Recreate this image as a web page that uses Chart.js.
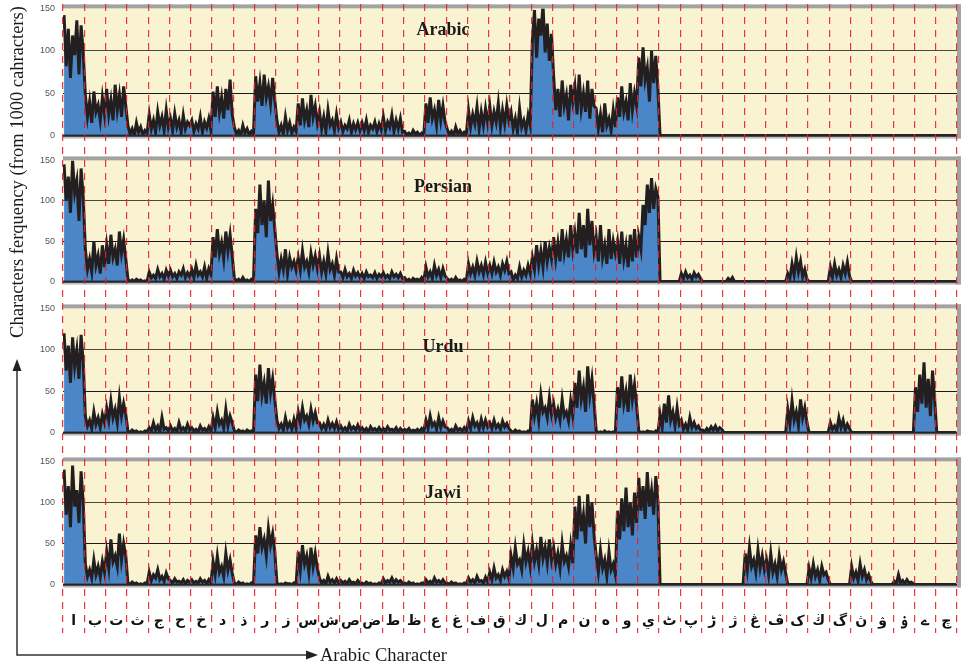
<!DOCTYPE html>
<html>
<head>
<meta charset="utf-8">
<script src="https://cdn.jsdelivr.net/npm/chart.js@4.4.1/dist/chart.umd.min.js"></script>
<style>
  html, body { margin: 0; padding: 0; background: #fff; }
  #wrap { position: relative; width: 962px; height: 665px; overflow: hidden; }
  canvas { position: absolute; left: 0; }
  #ytitle { position: absolute; left: 17px; top: 172px; transform: translate(-50%, -50%) rotate(-90deg);
            white-space: nowrap; font: 18.5px 'Liberation Serif', serif; color: #1a1a1a; line-height: 20px; }
  #xtitle { position: absolute; left: 320px; top: 645px; font: 18.5px 'Liberation Serif', serif; color: #1a1a1a;
            white-space: nowrap; line-height: 20px; }
  svg { position: absolute; left: 0; top: 0; }
</style>
</head>
<body>
<div id="wrap">
  <canvas id="p0"></canvas>
  <canvas id="p1"></canvas>
  <canvas id="p2"></canvas>
  <canvas id="p3"></canvas>
  <canvas id="cols"></canvas>
  <div id="ytitle">Characters ferquency (from 1000 cahracters)</div>
  <svg width="962" height="665">
    <polyline points="17,371 17,655 306,655" fill="none" stroke="#333" stroke-width="1.5"/>
    <polygon points="17,359 12.5,371 21.5,371" fill="#222"/>
    <polygon points="318,655 306,650.5 306,659.5" fill="#222"/>
  </svg>
  <div id="xtitle">Arabic Character</div>
</div>
<script>
// Character columns along the x axis
const letters = ['ا','ب','ت','ث','ج','ح','خ','د','ذ','ر','ز','س','ش','ص','ض','ط','ظ','ع','غ',
                 'ف','ق','ك','ل','م','ن','ه','و','ي','ٹ','پ','ڑ','ژ','ڠ','ڤ','ک','ڬ','گ','ڽ','ۋ','ۏ','ے','چ'];

const panelNames = ['Arabic', 'Persian', 'Urdu', 'Jawi'];
const yTicks = [0, 50, 100, 150];

// Per-character frequency samples (per 1000 characters); 0 = character not used
const arabic = [
  [142,82,126,68,118,95,136,72,130,98],
  [48,22,40,15,52,28,36,18,45,25],
  [55,25,42,18,60,30,48,22,58,35],
  [12,2,8,0,15,4,10,1,6,3],
  [25,8,18,4,28,12,22,6,30,10],
  [20,6,26,10,18,4,24,8,16,12],
  [18,5,14,8,22,4,16,9,20,6],
  [52,22,58,28,45,20,55,30,66,25],
  [10,2,6,0,12,3,8,1,5,2],
  [70,40,62,35,72,45,58,38,68,42],
  [18,4,12,2,22,6,15,3,10,5],
  [38,12,44,18,30,10,48,22,35,15],
  [28,8,22,5,30,12,18,6,25,9],
  [16,5,12,8,18,4,14,7,15,6],
  [15,6,18,4,12,8,16,5,14,7],
  [22,6,16,10,24,5,18,8,20,4],
  [5,1,3,0,6,2,4,0,3,1],
  [38,15,45,20,30,12,42,18,35,16],
  [8,1,5,0,10,2,6,1,4,2],
  [30,10,25,14,34,8,28,12,32,15],
  [35,12,28,16,38,10,30,14,36,18],
  [28,8,20,4,32,10,18,6,24,12],
  [112,148,92,138,118,155,98,132,88,120],
  [70,30,55,22,65,35,48,18,60,40],
  [58,25,72,32,50,28,65,20,55,35],
  [32,8,25,4,38,12,20,6,30,10],
  [45,22,58,28,40,18,62,30,50,35],
  [92,58,104,66,80,40,100,62,94,55],
  0,0,0,0,0,0,0,0,0,0,0,0,0,0
];

const persian = [
  [145,100,130,85,150,110,125,75,140,105],
  [40,15,28,12,50,20,32,10,45,18],
  [45,22,58,30,40,20,62,35,52,28],
  [3,0,2,0,3,1,2,0,1,0],
  [12,5,8,4,15,6,10,3,14,7],
  [14,6,10,4,12,8,16,5,11,6],
  [15,5,20,8,12,6,18,4,16,9],
  [55,30,65,35,48,28,62,38,58,32],
  [4,1,3,0,5,1,2,0,3,1],
  [90,60,120,70,100,55,125,75,95,65],
  [35,12,28,15,40,10,30,18,25,14],
  [30,14,38,18,25,12,35,20,32,16],
  [32,12,25,10,35,15,22,8,28,12],
  [12,5,15,6,10,4,14,7,11,5],
  [10,4,12,6,8,5,11,4,9,6],
  [11,5,8,4,12,6,9,5,10,4],
  [5,1,3,0,4,2,3,1,5,1],
  [18,6,12,4,20,8,15,5,16,7],
  [4,1,3,0,5,1,2,0,3,1],
  [22,10,18,8,25,12,20,9,24,11],
  [20,10,24,12,18,8,22,14,25,10],
  [12,2,8,4,18,6,14,8,20,10],
  [30,15,45,20,38,18,50,25,42,28],
  [55,28,48,25,65,35,52,30,70,40],
  [60,35,85,40,70,30,90,45,75,38],
  [55,25,70,30,45,22,65,28,50,35],
  [50,22,62,28,45,18,58,25,65,30],
  [55,40,95,70,120,85,128,90,115,105],
  0,
  [10,4,12,5,8,3,11,6,9,4],
  0,
  [0,0,4,1,5,0,0,0,0,0],
  0,0,
  [10,4,22,8,30,12,25,6,15,3],
  0,
  [18,6,22,8,15,5,20,10,24,7],
  0,0,0,0,0
];

const urdu = [
  [120,75,105,60,115,80,100,65,118,85],
  [20,8,15,5,25,10,18,6,22,12],
  [30,15,38,18,28,12,42,20,35,22],
  [2,0,3,1,2,0,1,0,2,1],
  [6,2,12,3,8,1,18,4,6,2],
  [8,2,5,1,12,3,6,2,10,3],
  [6,2,4,1,8,3,5,1,7,2],
  [18,6,25,10,15,5,28,8,20,12],
  [2,0,3,1,2,0,3,1,2,0],
  [70,38,82,45,60,35,78,48,65,40],
  [15,5,10,3,18,6,12,4,16,5],
  [25,12,30,15,20,10,28,14,24,12],
  [12,5,10,4,15,6,11,5,13,4],
  [8,3,6,2,10,4,7,3,9,3],
  [6,2,5,1,7,3,5,2,6,2],
  [5,2,7,3,4,2,6,1,5,2],
  [4,2,5,1,3,2,4,1,5,2],
  [15,5,20,8,12,4,18,6,14,7],
  [6,2,4,1,8,3,5,2,6,2],
  [14,5,18,8,12,4,16,6,15,7],
  [12,5,15,6,10,4,14,7,11,5],
  [2,0,3,1,2,0,1,0,2,1],
  [40,20,35,15,45,25,30,18,42,22],
  [35,18,28,15,40,20,25,14,38,20],
  [60,30,75,40,55,25,80,45,65,35],
  [2,0,1,0,2,0,1,0,1,0],
  [55,30,68,35,50,25,70,40,58,32],
  [2,0,1,0,2,1,1,0,2,0],
  [22,6,35,12,45,15,25,8,30,10],
  [15,4,10,3,18,6,12,5,8,3],
  [3,1,5,2,7,3,8,2,6,4],
  0,0,0,
  [28,10,38,15,25,8,40,18,30,12],
  0,
  [12,4,8,2,18,6,15,3,10,5],
  0,0,0,
  [55,25,70,35,85,30,65,20,75,40],
  0
];

const jawi = [
  [140,85,120,70,145,95,115,75,138,100],
  [25,10,18,8,30,12,22,9,28,15],
  [40,20,55,28,35,22,62,30,50,35],
  [2,0,3,1,2,0,1,0,2,1],
  [15,5,12,8,18,6,10,4,14,7],
  [5,2,7,3,4,2,6,1,5,3],
  [6,2,4,2,7,3,5,1,6,2],
  [28,12,35,15,22,10,38,18,30,14],
  [2,0,3,1,2,0,1,0,2,0],
  [60,38,70,45,55,35,68,48,62,40],
  [2,0,1,0,2,1,1,0,2,0],
  [40,18,48,25,35,15,45,22,38,20],
  [8,2,5,1,10,3,6,2,7,2],
  [5,2,4,1,6,2,3,1,5,2],
  [2,0,3,1,2,0,1,0,2,1],
  [7,2,5,3,8,2,6,3,5,2],
  [2,0,3,1,2,0,1,0,2,1],
  [6,2,4,1,8,3,5,2,6,2],
  [2,0,3,1,2,0,1,0,2,1],
  [8,3,6,2,10,4,5,2,9,3],
  [15,6,20,8,12,5,18,10,16,7],
  [35,20,45,25,30,18,48,28,40,22],
  [50,28,42,25,58,32,45,26,55,30],
  [45,25,38,20,50,28,35,22,48,26],
  [95,55,108,65,85,50,110,70,100,60],
  [35,15,42,20,30,10,40,18,25,12],
  [90,55,105,65,118,70,100,60,112,75],
  [130,90,120,80,137,95,115,85,132,100],
  0,0,0,0,
  [38,18,45,22,30,15,42,20,35,18],
  [30,12,38,15,25,10,35,18,28,14],
  0,
  [20,8,25,10,18,5,22,12,15,6],
  0,
  [22,8,15,5,25,10,18,6,12,4],
  0,
  [4,1,12,2,5,1,6,2,3,1],
  0,0
];

const SAMPLES = 10;
const W = 962;

// Expand the per-character samples into points along a 0..42 linear axis
function toPoints(cols) {
  const pts = [];
  cols.forEach((col, i) => {
    const vals = Array.isArray(col) ? col : new Array(SAMPLES).fill(0);
    vals.forEach((v, j) => pts.push({ x: i + (j + 0.5) / vals.length, y: v }));
  });
  return pts;
}

// Panel plot areas (top / bottom pixel of each plot), title centre y
const panelBoxes = [
  { top: 8,   bottom: 136, ty: 30 },
  { top: 160, bottom: 282, ty: 187 },
  { top: 308, bottom: 433, ty: 347 },
  { top: 461, bottom: 585, ty: 493 }
];
const series = [arabic, persian, urdu, jawi];

// Cream background, grey frame and the language name of each panel
const panelFrame = {
  id: 'panelFrame',
  beforeDraw(chart) {
    const { ctx, chartArea: a } = chart;
    ctx.save();
    ctx.fillStyle = '#faf3d1';
    ctx.fillRect(a.left, a.top, a.right - a.left, a.bottom - a.top);
    ctx.restore();
  },
  afterDraw(chart, args, opts) {
    const { ctx, chartArea: a } = chart;
    ctx.save();
    ctx.fillStyle = '#a2a2a2';
    ctx.fillRect(a.left, a.top - 4, a.right - a.left + 4, 4);
    ctx.fillRect(a.right, a.top - 4, 4, a.bottom - a.top + 7);
    ctx.fillStyle = '#bcbcbc';
    ctx.fillRect(a.left, a.bottom + 1, a.right - a.left, 2);
    ctx.fillStyle = '#262626';
    ctx.fillRect(a.left, a.bottom - 1, a.right - a.left, 2.2);
    ctx.font = 'bold 18px "Liberation Serif"';
    ctx.fillStyle = '#1a1a1a';
    ctx.textAlign = 'center';
    ctx.textBaseline = 'middle';
    ctx.fillText(opts.title, opts.tx, a.top + opts.dy);
    ctx.restore();
  }
};

function panelConfig(k, box) {
  return {
    type: 'line',
    data: {
      datasets: [{
        data: toPoints(series[k]),
        borderColor: '#231f20',
        borderWidth: 3,
        backgroundColor: '#4a86c8',
        fill: 'origin',
        pointRadius: 0,
        tension: 0
      }]
    },
    options: {
      responsive: false,
      maintainAspectRatio: false,
      animation: false,
      events: [],
      layout: { padding: { left: 0, right: 5, top: 6, bottom: 6 } },
      plugins: {
        legend: { display: false },
        tooltip: { enabled: false },
        panelFrame: { title: panelNames[k], tx: 443, dy: box.ty - box.top }
      },
      scales: {
        x: { type: 'linear', min: 0, max: letters.length, display: false },
        y: {
          min: 0, max: 150,
          afterBuildTicks: s => { s.ticks = yTicks.map(v => ({ value: v })); },
          afterFit: s => { s.width = 63; },
          ticks: { padding: 8, color: '#555', font: { family: 'Liberation Sans', size: 9 } },
          grid: {
            drawTicks: false,
            lineWidth: 1,
            color: c => (c.tick && c.tick.value === 100) ? '#4d4a3c'
                      : (c.tick && c.tick.value === 50) ? '#1a1a1a' : 'rgba(0,0,0,0)'
          },
          border: { display: false }
        }
      }
    },
    plugins: [panelFrame]
  };
}

panelBoxes.forEach((box, k) => {
  const cv = document.getElementById('p' + k);
  const plotH = box.bottom - box.top;
  // first pass: find how much room the axis labels take above / below the plot
  cv.width = W; cv.height = plotH + 20;
  let chart = new Chart(cv, panelConfig(k, box));
  const offTop = chart.chartArea.top;
  const offBot = cv.height - chart.chartArea.bottom;
  chart.destroy();
  // second pass: size the canvas so the plot spans exactly box.top .. box.bottom
  cv.width = W; cv.height = plotH + offTop + offBot;
  cv.style.top = (box.top - offTop) + 'px';
  new Chart(cv, panelConfig(k, box));
});

// Column separators (red dashed) running through all panels, with the character labels
const colCanvas = document.getElementById('cols');
colCanvas.width = W; colCanvas.height = 640;
colCanvas.style.top = '0px';
new Chart(colCanvas, {
  type: 'line',
  data: { labels: letters, datasets: [] },
  options: {
    responsive: false,
    maintainAspectRatio: false,
    animation: false,
    events: [],
    layout: { padding: { left: 63, right: 5, top: 4, bottom: 0 } },
    plugins: { legend: { display: false }, tooltip: { enabled: false } },
    scales: {
      y: { display: false },
      x: {
        type: 'category',
        offset: true,
        afterFit: s => { s.height = 7; },
        grid: { offset: true, drawTicks: false, color: 'rgba(232,32,44,0.9)', lineWidth: 1.2 },
        border: { display: false, dash: [7, 6] },
        ticks: { autoSkip: false, maxRotation: 0, mirror: true, padding: 3, color: '#111',
                 font: { family: 'DejaVu Sans', size: 14, weight: 'bold' } }
      }
    }
  }
});
</script>
</body>
</html>
